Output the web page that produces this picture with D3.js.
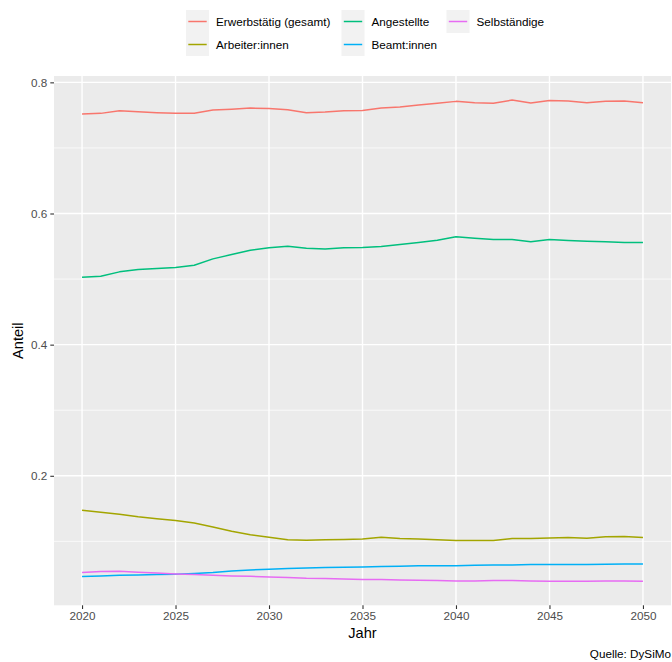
<!DOCTYPE html>
<html>
<head>
<meta charset="utf-8">
<script src="https://cdn.jsdelivr.net/npm/d3@7"></script>
<style>
  html, body { margin: 0; padding: 0; background: #fff; }
  svg { display: block; font-family: "Liberation Sans", Arial, sans-serif; }
</style>
</head>
<body>
<svg id="chart" width="672" height="662"></svg>
<script>
const years = d3.range(2020, 2051);
const seriesNames = ["Erwerbstätig (gesamt)", "Arbeiter:innen", "Angestellte", "Beamt:innen", "Selbständige"];
const seriesColors = ["#F8766D", "#A3A500", "#00BF7D", "#00B0F6", "#E76BF3"];

const erwerbstaetig = [0.7516, 0.7527, 0.7568, 0.7550, 0.7537, 0.7530, 0.7530, 0.7578, 0.7590, 0.7608,
  0.7600, 0.7583, 0.7537, 0.7547, 0.7568, 0.7570, 0.7610, 0.7623, 0.7654, 0.7680,
  0.7710, 0.7690, 0.7680, 0.7730, 0.7685, 0.7725, 0.7715, 0.7690, 0.7710, 0.7715, 0.7690];
const arbeiter = [0.1476, 0.1445, 0.1415, 0.1374, 0.1344, 0.1318, 0.1280, 0.1220, 0.1155, 0.1100,
  0.1064, 0.1023, 0.1018, 0.1023, 0.1028, 0.1035, 0.1064, 0.1043, 0.1038, 0.1023,
  0.1013, 0.1013, 0.1013, 0.1043, 0.1043, 0.1053, 0.1059, 0.1048, 0.1069, 0.1074, 0.1059];
const angestellte = [0.5028, 0.5043, 0.5110, 0.5145, 0.5160, 0.5176, 0.5210, 0.5308, 0.5374, 0.5440,
  0.5476, 0.5500, 0.5470, 0.5460, 0.5476, 0.5480, 0.5496, 0.5527, 0.5557, 0.5593,
  0.5644, 0.5623, 0.5603, 0.5603, 0.5568, 0.5603, 0.5588, 0.5577, 0.5568, 0.5557, 0.5557];
const beamte = [0.0463, 0.0473, 0.0483, 0.0489, 0.0494, 0.0499, 0.0509, 0.0524, 0.0550, 0.0565,
  0.0575, 0.0585, 0.0595, 0.0600, 0.0606, 0.0610, 0.0616, 0.0621, 0.0630, 0.0630,
  0.0630, 0.0636, 0.0641, 0.0641, 0.0646, 0.0646, 0.0646, 0.0646, 0.0651, 0.0656, 0.0656];
const selbstaendige = [0.0524, 0.0540, 0.0545, 0.0530, 0.0519, 0.0504, 0.0494, 0.0483, 0.0473, 0.0468,
  0.0458, 0.0448, 0.0437, 0.0433, 0.0427, 0.0417, 0.0417, 0.0412, 0.0407, 0.0402,
  0.0397, 0.0397, 0.0402, 0.0402, 0.0397, 0.0392, 0.0392, 0.0392, 0.0397, 0.0397, 0.0392];

const xTicks = [2020, 2025, 2030, 2035, 2040, 2045, 2050];
const yTicks = [0.2, 0.4, 0.6, 0.8];
const yMinor = [0.1, 0.3, 0.5, 0.7];

const allSeries = [erwerbstaetig, arbeiter, angestellte, beamte, selbstaendige];
const data = seriesNames.map((name, i) => ({
  name, color: seriesColors[i],
  values: years.map((y, j) => ({ year: y, value: allSeries[i][j] }))
}));

const svg = d3.select("#chart");
const panel = { left: 54, right: 671, top: 76, bottom: 605.3 };

const xExt = d3.extent(years);
const xPad = (xExt[1] - xExt[0]) * 0.05;
const x = d3.scaleLinear().domain([xExt[0] - xPad, xExt[1] + xPad]).range([panel.left, panel.right]);
const allVals = allSeries.flat();
const yExt = d3.extent(allVals);
const yPad = (yExt[1] - yExt[0]) * 0.05;
const y = d3.scaleLinear().domain([yExt[0] - yPad, yExt[1] + yPad]).range([panel.bottom, panel.top]);

// panel background
svg.append("rect").attr("x", panel.left).attr("y", panel.top)
  .attr("width", panel.right - panel.left).attr("height", panel.bottom - panel.top)
  .attr("fill", "#EBEBEB");

// grid
const grid = svg.append("g");
grid.selectAll(".ymin").data(yMinor).join("line")
  .attr("x1", panel.left).attr("x2", panel.right)
  .attr("y1", d => y(d)).attr("y2", d => y(d))
  .attr("stroke", "#fff").attr("stroke-width", 0.7);
grid.selectAll(".ymaj").data(yTicks).join("line")
  .attr("x1", panel.left).attr("x2", panel.right)
  .attr("y1", d => y(d)).attr("y2", d => y(d))
  .attr("stroke", "#fff").attr("stroke-width", 1.4);
grid.selectAll(".xmaj").data(xTicks).join("line")
  .attr("y1", panel.top).attr("y2", panel.bottom)
  .attr("x1", d => x(d)).attr("x2", d => x(d))
  .attr("stroke", "#fff").attr("stroke-width", 1.4);

// lines
const line = d3.line().x(d => x(d.year)).y(d => y(d.value));
svg.append("g").selectAll("path").data(data).join("path")
  .attr("d", d => line(d.values))
  .attr("fill", "none").attr("stroke", d => d.color)
  .attr("stroke-width", 1.5).attr("stroke-linejoin", "round");

// axes
const xAxis = d3.axisBottom(x).tickValues(xTicks).tickFormat(d3.format("d")).tickSize(3.7).tickPadding(3);
const gx = svg.append("g").attr("transform", `translate(0,${panel.bottom})`).call(xAxis);
gx.select(".domain").remove();
gx.selectAll("line").attr("stroke", "#333").attr("stroke-width", 1.1);
gx.selectAll("text").attr("fill", "#4D4D4D").attr("font-size", "11.7px")
  .attr("font-family", "Liberation Sans, Arial, sans-serif");

const yAxis = d3.axisLeft(y).tickValues(yTicks).tickFormat(d3.format(".1f")).tickSize(3.7).tickPadding(3);
const gy = svg.append("g").attr("transform", `translate(${panel.left},0)`).call(yAxis);
gy.select(".domain").remove();
gy.selectAll("line").attr("stroke", "#333").attr("stroke-width", 1.1);
gy.selectAll("text").attr("fill", "#4D4D4D").attr("font-size", "11.7px")
  .attr("font-family", "Liberation Sans, Arial, sans-serif");

// axis titles
svg.append("text").attr("x", (panel.left + panel.right) / 2).attr("y", 638)
  .attr("text-anchor", "middle").attr("font-size", "14.6px").attr("fill", "#000").text("Jahr");
svg.append("text").attr("transform", `translate(23,${(panel.top + panel.bottom) / 2}) rotate(-90)`)
  .attr("text-anchor", "middle").attr("font-size", "14.6px").attr("fill", "#000").text("Anteil");

// caption
svg.append("text").attr("x", 671).attr("y", 658).attr("text-anchor", "end")
  .attr("font-size", "11.7px").attr("fill", "#000").text("Quelle: DySiMo");

// legend (3 columns, column-major)
const colX = [186, 341.5, 446.5];
const rowY = [10, 33];
const keySize = 23;
const legend = svg.append("g");
data.forEach((d, i) => {
  const col = Math.floor(i / 2), row = i % 2;
  const g = legend.append("g").attr("transform", `translate(${colX[col]},${rowY[row]})`);
  g.append("rect").attr("width", keySize).attr("height", keySize).attr("fill", "#F2F2F2");
  g.append("line").attr("x1", 2.3).attr("x2", keySize - 2.3)
    .attr("y1", keySize / 2).attr("y2", keySize / 2)
    .attr("stroke", d.color).attr("stroke-width", 1.5);
  g.append("text").attr("x", keySize + 7).attr("y", keySize / 2).attr("dy", "0.35em")
    .attr("font-size", "11.7px").attr("fill", "#000").text(d.name);
});
</script>
</body>
</html>
